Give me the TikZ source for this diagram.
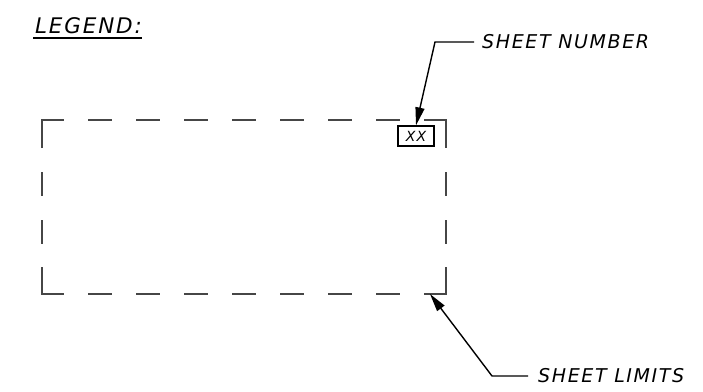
\documentclass[tikz,border=0pt]{standalone}
\usepackage{fontspec}
\usepackage{xcolor}
\usetikzlibrary{arrows.meta}
\newfontfamily\draftfont[LetterSpace=8.5]{DejaVu Sans}
\definecolor{limitgray}{RGB}{70,70,70}

\tikzset{
  callout/.style={font=\draftfont\itshape\fontsize{19}{21}\selectfont, anchor=west, inner sep=0pt},
  leader/.style={black, line width=1.4pt, -{Triangle[length=18pt,width=9pt]}},
  limitline/.style={limitgray, line width=1.3pt}
}

\begin{document}
\begin{tikzpicture}[x=1pt, y=-1pt]
    \useasboundingbox (0,0) rectangle (703,391);

    % Legend title
    \node[font=\draftfont\itshape\fontsize{21.5}{23}\selectfont, anchor=west, inner sep=0pt] (legend) at (35,26) {LEGEND:};
    \draw[line width=1.4pt] (33,38) -- (142,38);

    % Sheet limits: corners
    \draw[limitline] (42,148) -- (42,120) -- (64,120);
    \draw[limitline] (424,120) -- (446,120) -- (446,148);
    \draw[limitline] (42,267) -- (42,294) -- (64,294);
    \draw[limitline] (424,294) -- (446,294) -- (446,267);

    % Sheet limits: dashes
    \foreach \x in {88,136,...,376} {
        \draw[limitline] (\x,120) -- (\x+24,120);
        \draw[limitline] (\x,294) -- (\x+24,294);
    }
    \foreach \y in {172,220} {
        \draw[limitline] (42,\y) -- (42,\y+24);
        \draw[limitline] (446,\y) -- (446,\y+24);
    }

    % Sheet number box
    \node[draw, line width=1.3pt, minimum width=36pt, minimum height=20pt, inner sep=0pt,
          font=\draftfont\itshape\fontsize{14}{16}\selectfont] (xxbox) at (416,136) {XX};

    % Callouts
    \node[callout] (shtnum) at (482,42) {SHEET NUMBER};
    \node[callout] (shtlim) at (538,376) {SHEET LIMITS};
    \coordinate (limcorner) at (430,294);

    \draw[leader] ([xshift=-8pt]shtnum.west) -- (435,42) -- (xxbox.north);
    \draw[leader] ([xshift=-10pt]shtlim.west) -- (492,376) -- (limcorner);
\end{tikzpicture}
\end{document}
